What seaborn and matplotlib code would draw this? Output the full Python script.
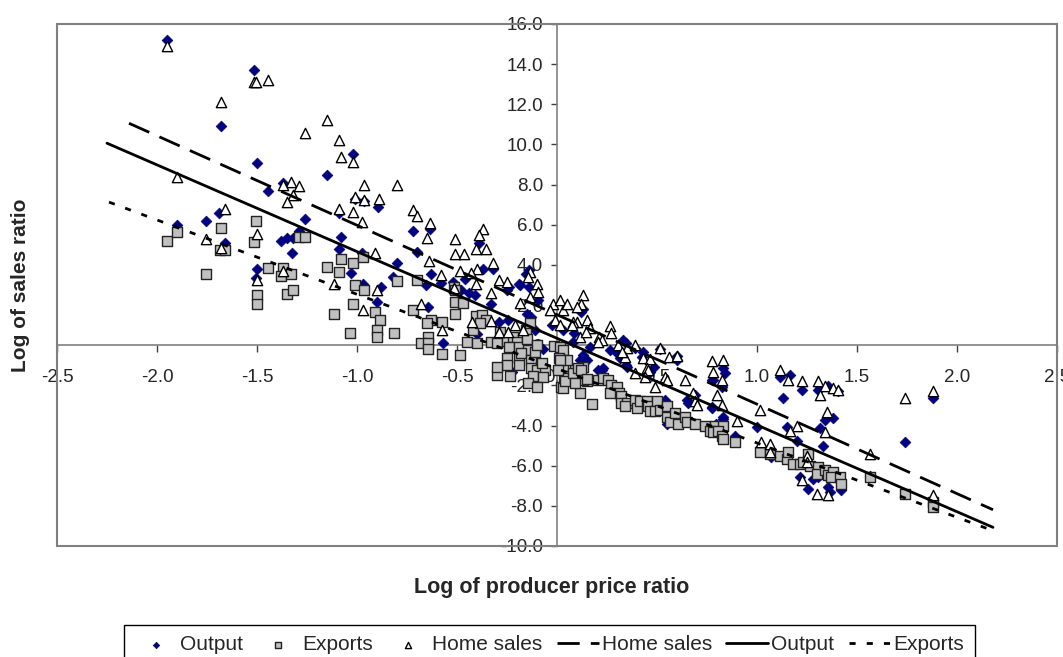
import matplotlib
matplotlib.use("Agg")
import matplotlib.pyplot as plt
from matplotlib.patches import Rectangle
from matplotlib.ticker import FormatStrFormatter, MultipleLocator
import numpy as np
import pandas as pd
import seaborn as sns

# scatter points (log price ratio, log sales ratio)
output_x = [-1.95, -1.515, -1.68, -1.5, -1.445, -1.37, -1.15, -1.02, -1.01, -0.965, -0.895, -1.9,
            -1.757, -1.69, -1.66, -1.26, -1.09, -1.08, -1.09, -1.38, -1.35, -1.32, -1.325, -1.29,
            -1.5, -1.505, -0.72, -0.635, -0.70, -0.80, -0.975, -1.03, -0.63, -0.655, -0.58, -0.39,
            -0.37, -0.32, -0.41, -0.97, -0.88, -0.90, -0.82, -0.52, -0.48, -0.33, -0.645, -0.57,
            -0.24, -0.185, -0.14, -0.29, -0.245, -0.46, -0.44, -0.40, -0.25, -0.19, -0.155, -0.14,
            -0.15, -0.13, -0.095, -0.11, -0.025, 0.03, 0.13, 0.085, 0.13, 0.165, -0.07, -0.225,
            0.12, 0.08, 0.13, 0.115, 0.15, 0.205, 0.225, 0.23, 0.265, 0.30, 0.315, 0.33, 0.345,
            0.39, 0.345, 0.35, 0.43, 0.425, 0.485, 0.465, 0.515, 0.54, 0.6, 0.6, 0.65, 0.655, 0.69,
            0.775, 0.78, 0.83, 0.84, 0.83, 0.55, 0.795, 0.825, 0.775, 0.825, 0.775, 0.83, 0.89,
            1.0, 1.115, 1.165, 1.13, 1.225, 1.305, 1.315, 1.357, 1.405, 1.15, 1.2, 1.34, 1.38,
            1.315, 1.33, 1.07, 1.215, 1.257, 1.357, 1.365, 1.42, 1.28, 1.305, 1.74, 1.88, 1.565]
output_y = [15.2, 13.7, 10.9, 9.1, 7.7, 8.1, 8.5, 9.5, 7.3, 7.2, 6.9, 6.0,
            6.2, 6.6, 5.1, 6.3, 6.6, 5.4, 4.8, 5.2, 5.35, 5.35, 4.6, 5.7,
            3.8, 3.35, 5.7, 5.8, 4.65, 4.1, 4.6, 3.6, 3.55, 3.0, 3.1, 5.1,
            3.8, 3.8, 2.5, 3.05, 2.9, 2.15, 3.4, 3.15, 2.75, 2.05, 1.9, 0.1,
            2.9, 3.0, 3.75, 1.15, 1.25, 3.3, 2.6, 0.55, 2.75, 3.05, 3.55, 2.9,
            1.55, 1.4, 2.25, 0.75, 1.0, 0.75, 1.8, 0.6, -0.65, -0.1, -0.2, -1.35,
            1.65, 0.15, -0.5, -0.75, -0.75, -1.25, -1.25, -1.15, -0.25, -0.4, -0.65, 0.25, 0.1,
            -0.15, -1.0, -1.1, -0.35, -0.6, -1.1, -1.35, -0.2, -2.75, -0.55, -0.75, -2.75, -2.9, -2.5,
            -3.1, -1.75, -1.15, -1.4, -3.55, -3.9, -3.9, -2.1, -1.75, -2.0, -3.15, -3.65, -4.5,
            -4.05, -1.6, -1.5, -2.65, -2.25, -2.25, -2.15, -2.05, -2.3, -4.05, -4.75, -3.7, -3.6,
            -4.1, -5.0, -5.55, -6.55, -7.15, -7.05, -7.3, -7.2, -6.65, -6.55, -4.8, -2.65, -6.5]

exports_x = [-1.95, -1.9, -1.68, -1.685, -1.66, -1.757, -1.505, -1.517, -1.29, -1.26, -1.443, -1.37,
             -1.38, -1.33, -1.15, -1.08, -1.09, -1.02, -0.97, -0.80, -0.70, -1.5, -1.35, -1.32,
             -1.01, -0.965, -0.515, -1.50, -1.115, -1.02, -0.91, -0.885, -1.035, -0.90, -0.90, -0.815,
             -0.72, -0.63, -0.65, -0.575, -0.645, -0.68, -0.645, -0.51, -0.51, -0.51, -0.47, -0.405,
             -0.375, -0.355, -0.42, -0.385, -0.45, -0.40, -0.33, -0.30, -0.24, -0.185, -0.285, -0.155,
             -0.135, -0.645, -0.575, -0.485, -0.25, -0.22, -0.20, -0.24, -0.19, -0.19, -0.19, -0.25,
             -0.25, -0.235, -0.30, -0.30, -0.15, -0.145, -0.18, -0.13, -0.11, -0.10, -0.13, -0.10,
             -0.12, -0.06, -0.07, -0.013, 0.015, 0.03, 0.01, 0.03, 0.035, 0.02, 0.09, 0.13, 0.15,
             0.115, 0.175, -0.145, -0.10, -0.075, 0.048, 0.015, 0.007, 0.032, 0.04, 0.08, 0.107,
             0.12, 0.13, 0.15, 0.09, 0.207, 0.23, 0.257, 0.27, 0.30, 0.31, 0.265, 0.32, 0.32, 0.35,
             0.34, 0.39, 0.40, 0.415, 0.45, 0.455, 0.465, 0.50, 0.49, 0.515, 0.55, 0.55, 0.565, 0.59,
             0.605, 0.64, 0.65, 0.69, 0.74, 0.79, 0.83, 0.765, 0.78, 0.805, 0.825, 0.83, 0.89, 1.015,
             1.065, 1.115, 1.15, 1.155, 1.18, 1.215, 1.23, 1.257, 1.265, 1.305, 1.30, 1.34, 1.357,
             1.38, 1.37, 1.415, 1.42, 1.565, 1.74, 1.88, 1.88]
exports_y = [5.2, 5.65, 5.85, 4.75, 4.75, 3.55, 6.2, 5.15, 5.4, 5.4, 3.85, 3.85,
             3.45, 3.55, 3.9, 4.3, 3.65, 4.1, 4.4, 3.2, 3.25, 2.5, 2.55, 2.75,
             3.0, 2.75, 2.9, 2.05, 1.55, 2.05, 1.65, 1.25, 0.6, 0.75, 0.4, 0.6,
             1.75, 1.25, 1.1, 1.15, 0.4, 0.1, 0.1, 2.75, 2.15, 1.55, 2.1, 1.45,
             1.5, 1.25, 0.75, 1.1, 0.15, 0.1, 0.15, 0.1, 0.1, 0.1, 0.65, 0.75,
             1.1, -0.2, -0.45, -0.5, 0.2, 0.4, 0.15, -0.1, -0.1, -0.6, -1.0, -0.65,
             -1.0, -1.55, -1.5, -1.1, 0.3, -0.25, -0.4, -0.75, -0.35, 0.0, -1.15, -1.25,
             -1.55, -1.25, -1.6, -0.05, -0.1, -0.25, -0.65, -1.05, -1.65, -2.1, -1.25, -1.1, -1.8,
             -2.4, -2.95, -1.9, -2.1, -0.9, -0.75, -0.75, -1.25, -2.15, -1.8, -1.4, -1.15,
             -1.25, -1.75, -1.7, -1.9, -1.75, -1.65, -1.75, -2.0, -2.1, -2.4, -2.4, -2.55, -2.9, -2.9,
             -3.05, -2.75, -3.15, -2.8, -2.8, -3.05, -3.3, -2.8, -3.3, -3.25, -3.05, -3.55, -3.8, -3.4,
             -3.9, -3.55, -3.8, -3.9, -4.0, -4.0, -4.0, -4.25, -4.3, -4.25, -4.5, -4.65, -4.8, -5.3,
             -5.4, -5.5, -5.65, -5.3, -5.9, -5.9, -5.8, -5.4, -6.0, -6.05, -6.4, -6.2, -6.45,
             -6.3, -6.55, -6.55, -6.9, -6.55, -7.4, -7.8, -8.05]

home_x = [-1.95, -1.515, -1.505, -1.443, -1.68, -1.15, -1.26, -1.09, -1.08, -1.02, -1.9, -1.33,
          -1.29, -1.37, -1.32, -1.35, -0.965, -0.80, -0.89, -1.01, -0.965, -1.09, -1.02, -0.975,
          -1.66, -1.757, -1.5, -0.72, -0.70, -0.635, -0.65, -0.51, -0.51, -0.465, -0.91, -0.64,
          -0.37, -0.39, -0.405, -0.355, -0.32, -0.40, -0.485, -0.43, -0.58, -0.29, -0.25, -1.5,
          -1.37, -1.115, -0.33, -1.68, -0.405, -0.515, -0.90, -0.97, -0.68, -0.575, -0.425, -0.185,
          -0.135, -0.10, -0.093, -0.135, -0.143, -0.29, -0.245, -0.21, -0.33, -0.17, -0.02, 0.015,
          0.03, 0.05, -0.01, 0.015, -0.035, 0.13, 0.12, 0.10, 0.10, 0.15, 0.165, 0.115,
          0.08, 0.075, 0.145, 0.265, 0.27, 0.21, 0.225, 0.205, 0.305, 0.35, 0.34, 0.325,
          0.39, 0.43, 0.465, 0.45, 0.455, 0.515, 0.56, 0.6, 0.54, 0.55, 0.49, 0.44,
          0.39, 0.64, 0.68, 0.69, 0.70, 0.775, 0.83, 0.78, 0.825, 0.80, 0.90, 0.825,
          1.015, 1.115, 1.155, 1.2, 1.165, 1.225, 1.305, 1.34, 1.315, 1.38, 1.405, 1.35,
          1.34, 1.02, 1.065, 1.065, 1.225, 1.30, 1.357, 1.25, 1.25, 1.74, 1.88, 1.565, 1.88]
home_y = [14.9, 13.1, 13.1, 13.2, 12.1, 11.2, 10.55, 10.2, 9.4, 9.15, 8.4, 8.15,
          7.95, 8.0, 7.5, 7.15, 8.0, 8.0, 7.3, 7.4, 7.25, 6.8, 6.65, 6.15,
          6.8, 5.3, 5.55, 6.75, 6.45, 6.1, 5.35, 5.3, 4.55, 4.55, 4.6, 4.2,
          5.8, 5.5, 4.8, 4.8, 4.1, 3.8, 3.7, 3.6, 3.5, 3.25, 3.15, 3.25,
          3.7, 3.05, 2.6, 4.85, 3.05, 2.85, 2.75, 1.75, 2.05, 0.75, 1.15, 2.1,
          2.4, 3.05, 2.65, 3.65, 3.4, 0.65, 0.65, 1.0, 1.2, 0.75, 2.05, 2.25,
          1.75, 2.05, 1.25, 1.0, 1.75, 2.5, 2.05, 1.9, 1.15, 1.25, 0.85, 0.4,
          1.15, 1.0, 0.65, 0.95, 0.6, 0.4, 0.25, 0.15, 0.0, -0.15, -0.6, -0.35,
          0.0, -0.65, -0.7, -1.15, -1.25, -0.15, -0.6, -0.55, -1.6, -1.75, -2.1, -1.6,
          -1.4, -1.75, -2.4, -2.8, -3.0, -0.8, -0.75, -1.35, -1.75, -2.5, -3.75, -3.0,
          -3.25, -1.25, -1.75, -4.0, -4.25, -1.8, -1.8, -2.05, -2.5, -2.15, -2.25, -3.35,
          -4.3, -4.8, -4.9, -5.3, -6.7, -7.4, -7.45, -5.5, -5.8, -2.65, -2.3, -5.4, -7.45]

# linear trend lines: slope, intercept, x-range
trend_names = ["Home sales", "Output", "Exports"]
trend_slope = [-4.456, -4.319, -3.703]
trend_intercept = [1.52, 0.345, -1.166]
trend_start = [-2.14, -2.25, -2.24]
trend_end = [2.18, 2.18, 2.18]

sns.set_style("white")
plt.rcParams["font.family"] = ["Liberation Sans", "DejaVu Sans"]
plt.rcParams["axes.unicode_minus"] = False

fig = plt.figure(figsize=(10.63, 6.57), dpi=100)
ax = fig.add_axes([57 / 1063, 1 - 546 / 657, 1000 / 1063, 522 / 657])

sns.scatterplot(x=output_x, y=output_y, ax=ax, marker="D", s=30, color="#000080",
                edgecolor="#000080", linewidth=0.5, label="Output", zorder=3)
sns.scatterplot(x=exports_x, y=exports_y, ax=ax, marker="s", s=50, color="#C0C0C0",
                edgecolor="#222222", linewidth=1.0, label="Exports", zorder=3)
sns.scatterplot(x=home_x, y=home_y, ax=ax, marker="^", s=55, color="white",
                edgecolor="black", linewidth=1.0, label="Home sales", zorder=3)

styles = [(0, (8, 4)), "-", (0, (2.2, 4))]
for name, m, b, x0, x1, ls in zip(trend_names, trend_slope, trend_intercept,
                                  trend_start, trend_end, styles):
    line_df = pd.DataFrame({"x": [x0, x1]})
    line_df["y"] = m * line_df["x"] + b
    sns.lineplot(data=line_df, x="x", y="y", ax=ax, color="black", linewidth=2.0,
                 linestyle=ls, label=name, zorder=4, sort=False)

ax.set_xlim(-2.5, 2.5)
ax.set_ylim(-10, 16)
ax.xaxis.set_major_locator(MultipleLocator(0.5))
ax.yaxis.set_major_locator(MultipleLocator(2))
ax.xaxis.set_major_formatter(FormatStrFormatter("%.1f"))
ax.yaxis.set_major_formatter(FormatStrFormatter("%.1f"))
ax.set_xlabel("")
ax.set_ylabel("")

# axes cross at the origin
for side in ["left", "bottom"]:
    ax.spines[side].set_position(("data", 0))
    ax.spines[side].set_color("#808080")
    ax.spines[side].set_linewidth(1.2)
    ax.spines[side].set_zorder(2)
ax.spines["top"].set_visible(False)
ax.spines["right"].set_visible(False)
ax.add_patch(Rectangle((0, 0), 1, 1, transform=ax.transAxes, fill=False,
                       edgecolor="#808080", linewidth=1.5, clip_on=False, zorder=1))

ax.tick_params(axis="x", direction="out", length=5, width=1, color="#404040",
               labelsize=13.5, pad=12, bottom=True)
ax.tick_params(axis="y", direction="out", length=4, width=1, color="#404040",
               labelsize=13.5, pad=6, left=True)

fig.text(21 / 1063, 1 - 285 / 657, "Log of sales ratio", rotation=90, ha="center",
         va="center", fontsize=15, fontweight="bold")
fig.text(552 / 1063, 1 - 588 / 657, "Log of producer price ratio", ha="center",
         va="center", fontsize=15.5, fontweight="bold")

handles, labels = ax.get_legend_handles_labels()
if ax.legend_:
    ax.legend_.remove()
leg = fig.legend(handles, labels, loc="upper center", bbox_to_anchor=(0.517, 1 - 625 / 657),
                 borderaxespad=0, ncol=6, frameon=True, fancybox=False, framealpha=1,
                 edgecolor="black", fontsize=15, markerscale=0.6, handlelength=2.0,
                 handletextpad=0.15, columnspacing=0.7, borderpad=0.5)
leg.get_frame().set_linewidth(1.0)

fig.savefig("out.png", dpi=100)
